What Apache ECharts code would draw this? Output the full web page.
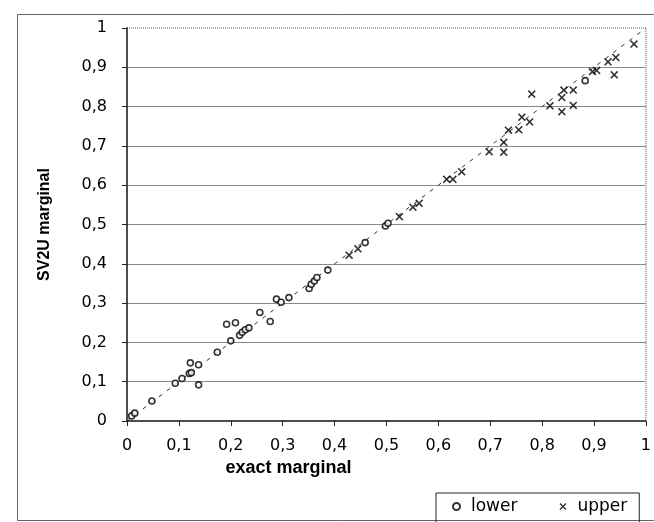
<!DOCTYPE html>
<html>
<head>
<meta charset="utf-8">
<script src="https://cdn.jsdelivr.net/npm/echarts@6/dist/echarts.min.js"></script>
<style>
html,body{margin:0;padding:0;background:#fff;}
#c{width:654px;height:522px;}
</style>
</head>
<body>
<div id="c"></div>
<script>
var xTickLabels = ['0','0,1','0,2','0,3','0,4','0,5','0,6','0,7','0,8','0,9','1'];
var yTickLabels = ['0','0,1','0,2','0,3','0,4','0,5','0,6','0,7','0,8','0,9','1'];

var lowerX = [0.009,0.015,0.048,0.093,0.106,0.120,0.124,0.122,0.138,0.138,0.174,0.200,0.192,0.209,0.217,0.222,0.228,0.235,0.256,0.276,0.288,0.297,0.312,0.351,0.355,0.361,0.366,0.387,0.459,0.498,0.503,0.883];
var lowerY = [0.013,0.020,0.051,0.096,0.108,0.121,0.123,0.148,0.143,0.092,0.175,0.204,0.246,0.250,0.218,0.226,0.232,0.237,0.276,0.253,0.310,0.302,0.314,0.337,0.348,0.356,0.365,0.384,0.454,0.496,0.503,0.866];

var upperX = [0.428,0.445,0.525,0.551,0.563,0.616,0.628,0.645,0.698,0.726,0.726,0.735,0.755,0.761,0.776,0.780,0.815,0.838,0.860,0.838,0.842,0.860,0.897,0.905,0.939,0.927,0.942,0.977];
var upperY = [0.422,0.438,0.520,0.544,0.554,0.615,0.615,0.634,0.685,0.684,0.709,0.740,0.741,0.773,0.761,0.832,0.802,0.787,0.803,0.823,0.842,0.842,0.889,0.892,0.881,0.914,0.925,0.959];

var refLine = [[0,0],[1,1]];

function zip(a,b){var r=[];for(var i=0;i<a.length;i++){r.push([a[i],b[i]]);}return r;}

var crossPath = 'path://M0,1.4 L1.4,0 L5,3.6 L8.6,0 L10,1.4 L6.4,5 L10,8.6 L8.6,10 L5,6.4 L1.4,10 L0,8.6 L3.6,5 Z';
var font = '"Liberation Sans", Arial, sans-serif';
var wideFont = '"DejaVu Sans", Verdana, sans-serif';

var chart = echarts.init(document.getElementById('c'), null, {renderer:'canvas'});
chart.setOption({
  animation:false,
  backgroundColor:'#fff',
  graphic:[{
    type:'rect', left:15, top:12, shape:{width:650,height:506},
    style:{fill:null, stroke:'#666', lineWidth:1}, silent:true, z:-10
  }],
  grid:{left:127, right:6, top:28, bottom:101, show:true, borderColor:'#555', borderWidth:1, borderType:'dotted'},
  legend:{
    data:['lower','upper'],
    left:436, top:493,
    borderColor:'#222', borderWidth:1,
    padding:[5,12,10,16],
    itemWidth:7, itemHeight:7, itemGap:42,
    textStyle:{fontFamily:wideFont, fontSize:17, color:'#000', padding:[0,0,0,6]}
  },
  xAxis:{
    type:'value', min:0, max:1, interval:0.1,
    name:'exact marginal', nameLocation:'middle', nameGap:38,
    nameTextStyle:{fontFamily:font, fontSize:18, fontWeight:'bold', color:'#000', padding:[0,196,0,0]},
    axisLine:{show:true, onZero:false, lineStyle:{color:'#222', width:1.5}},
    axisTick:{show:true, length:5, inside:false, lineStyle:{color:'#222'}},
    axisLabel:{margin:17, fontFamily:wideFont, fontSize:16, color:'#000',
      formatter:function(v){return xTickLabels[Math.round(v*10)];}},
    splitLine:{show:false}
  },
  yAxis:{
    type:'value', min:0, max:1, interval:0.1,
    name:'SV2U marginal', nameLocation:'middle', nameGap:74,
    nameTextStyle:{fontFamily:font, fontSize:16, fontWeight:'bold', color:'#000'},
    axisLine:{show:true, onZero:false, lineStyle:{color:'#222', width:1.5}},
    axisTick:{show:true, length:5, inside:false, lineStyle:{color:'#222'}},
    axisLabel:{margin:20, fontFamily:wideFont, fontSize:16, color:'#000',
      formatter:function(v){return yTickLabels[Math.round(v*10)];}},
    splitLine:{show:true, showMinLine:false, showMaxLine:false, lineStyle:{color:'#8a8a8a', width:1.2}}
  },
  series:[
    {
      name:'ref', type:'line', data:refLine, symbol:'none', silent:true,
      lineStyle:{color:'#333', width:1, type:[4,6]}, z:1
    },
    {
      name:'lower', type:'scatter', data:zip(lowerX,lowerY),
      symbol:'circle', symbolSize:6,
      itemStyle:{color:'#fff', borderColor:'#000', borderWidth:1.6}, z:3
    },
    {
      name:'upper', type:'scatter', data:zip(upperX,upperY),
      symbol:crossPath, symbolSize:8,
      itemStyle:{color:'#000'}, z:3
    }
  ]
});
</script>
</body>
</html>
